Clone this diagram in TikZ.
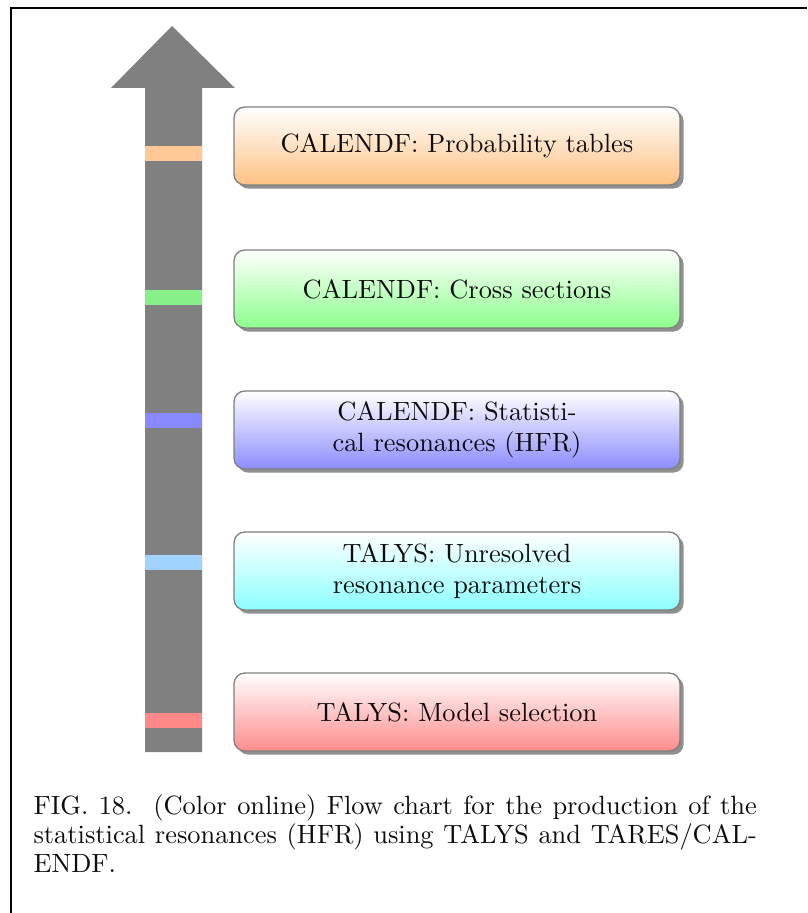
\documentclass[tikz,border=0pt]{standalone}
\usepackage{xcolor}
\usepackage{tikz}
\usetikzlibrary{shadows,positioning}
\definecolor{ShaftGray}{RGB}{128,128,128}
\definecolor{BandOrange}{RGB}{255,200,150}
\definecolor{BandGreen}{RGB}{136,240,136}
\definecolor{BandBlue}{RGB}{136,136,255}
\definecolor{BandCyan}{RGB}{160,212,255}
\definecolor{BandRed}{RGB}{255,136,136}

\tikzset{
  flowbox/.style={rectangle, rounded corners=4pt, draw=black!50, line width=0.5pt,
    top color=white, minimum width=168.9pt, minimum height=29.5pt,
    align=center, font=\fontsize{10}{11.6}\selectfont, text=black!95,
    drop shadow={shadow xshift=1.4pt, shadow yshift=-1.4pt, fill=black!55, opacity=0.8}}
}

\begin{document}
\begin{tikzpicture}[x=0.3788pt, y=-0.3788pt]
      \useasboundingbox (0,0) rectangle (807,913);
      % frame
      \draw[line width=0.8pt] (11,913) -- (11,8) -- (807,8);
      % big arrow
      \fill[ShaftGray] (145,752) -- (145,88) -- (111,88) -- (172,26)
        -- (235,88) -- (202,88) -- (202,752) -- cycle;
      % coloured bands on the shaft
      \fill[BandOrange] (145,146.5) rectangle (202,161.5);
      \fill[BandGreen]  (145,290)   rectangle (202,305);
      \fill[BandBlue]   (145,412.5) rectangle (202,427.5);
      \fill[BandCyan]   (145,555)   rectangle (202,570);
      \fill[BandRed]    (145,713)   rectangle (202,728);
      % Flow boxes
      \node[flowbox, bottom color=orange!48] (prob) at (457,146)
        {CALENDF: Probability tables};
      \node[flowbox, bottom color=green!45] (xsec) at (457,289)
        {CALENDF: Cross sections};
      \node[flowbox, bottom color=blue!45] (hfr) at (457,430)
        {CALENDF: Statisti-\\cal resonances (HFR)};
      \node[flowbox, bottom color=cyan!45] (urp) at (457,571)
        {TALYS: Unresolved\\resonance parameters};
      \node[flowbox, bottom color=red!45] (model) at (457,712)
        {TALYS: Model selection};
      % Caption
      \node[text=black!95, font=\fontsize{10}{11.1}\selectfont,
            text width=274pt, align=justify, anchor=north west, inner sep=0pt]
        (caption) at (33,794)
        {FIG.~18.\ \ (Color online) Flow chart for the production of the\linebreak
         statistical resonances (HFR) using TALYS and TARES/CAL-\linebreak
         ENDF.};
    \end{tikzpicture}
\end{document}
